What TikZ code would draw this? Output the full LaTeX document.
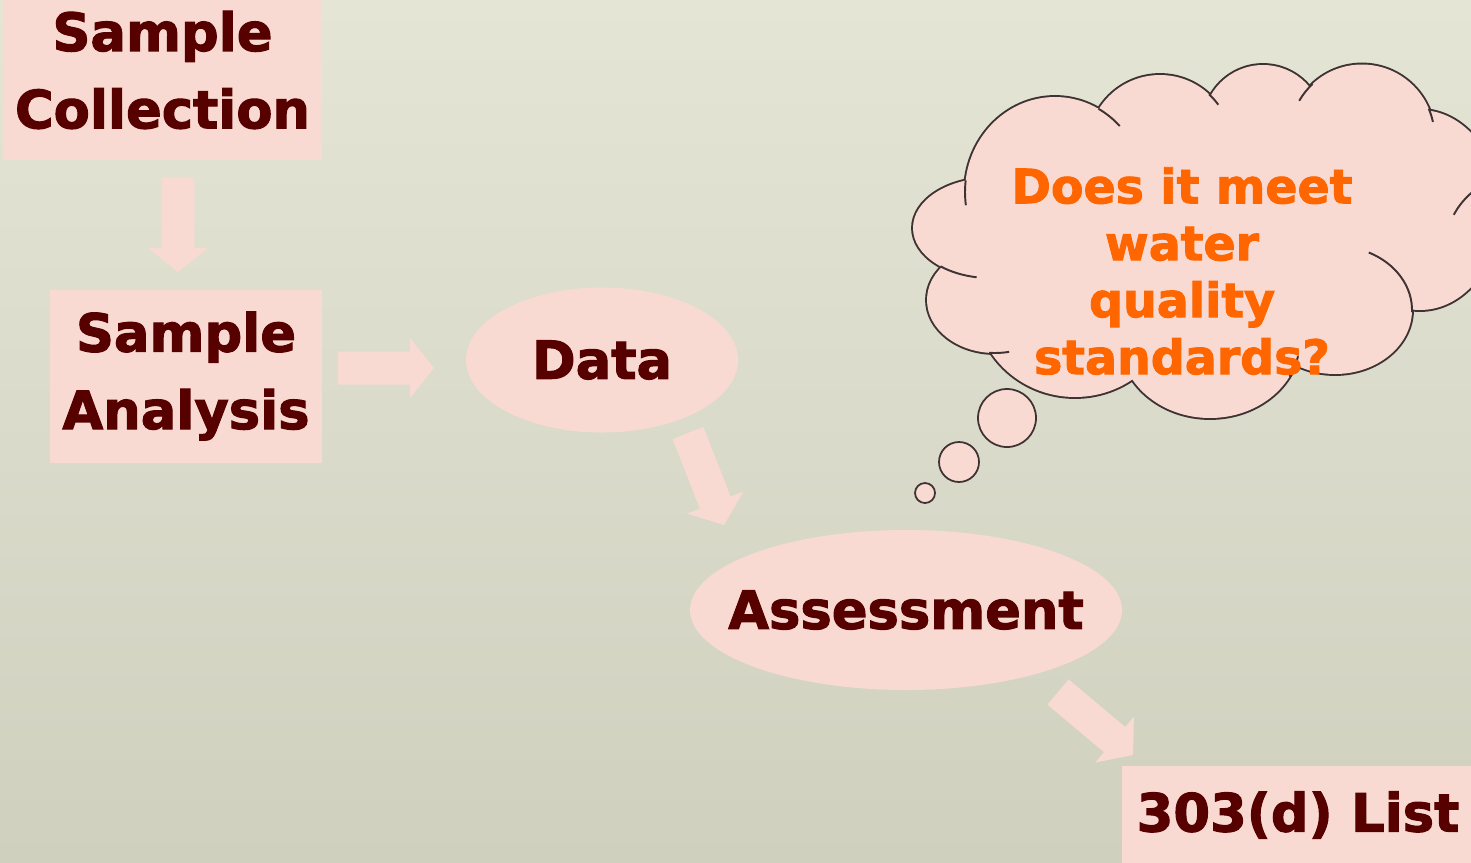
\documentclass[tikz,border=0pt]{standalone}
\usepackage{fontspec}
\setmainfont{DejaVu Sans}[BoldFeatures={FakeBold=2}]
\usetikzlibrary{positioning,shapes.geometric,calc}
\definecolor{boxpink}{RGB}{249,218,210}
\definecolor{darkred}{RGB}{86,0,0}
\definecolor{qorange}{RGB}{255,102,0}
\definecolor{cloudline}{RGB}{62,50,50}
\definecolor{bgtop}{RGB}{228,229,213}
\definecolor{bgmid}{RGB}{215,216,199}
\definecolor{bgbot}{RGB}{208,208,191}
% bumps of the thought cloud: x/y/xradius/yradius
\newcommand{\cloudbumps}{1055/192/90/95, 1160/147/72/72, 1263/125/60/60,
  1362/137/72.5/72.5, 1420/210/80/100, 1335/310/77/64, 1210/340/90/78,
  1075/300/100/97, 995/300/68/53, 990/228/77/50}
% short inner strokes of the cloud: x/y/xradius/yradius/from/to
\newcommand{\cloudcreases}{1335/310/77/64/-64/2, 1055/192/90/95/172/187,
  990/228/77/50/100/130, 995/300/68/53/78/95, 1210/340/90/78/12/28,
  1055/192/90/95/-61/-44, 1160/147/72/72/-47/-36, 1362/137/72.5/72.5/210/227,
  1362/137/72.5/72.5/-23/-12, 1520/250/75/75/208/245}

\begin{document}
\begin{tikzpicture}[x=0.1mm, y=-0.1mm,
box/.style={rectangle, fill=boxpink, text=darkred, align=center, inner sep=0pt,
font=\fontsize{15}{22}\selectfont\bfseries},
blob/.style={ellipse, fill=boxpink, text=darkred, inner xsep=-0.4cm,
font=\fontsize{15}{22}\selectfont\bfseries},
bubble/.style={circle, fill=boxpink, draw=cloudline, line width=0.5pt, inner sep=0pt},
fatarrow/.style={fill=boxpink, to path={let \p1=($(\tikztotarget)-(\tikztostart)$),
\n1={atan2(\y1,\x1)}, \n2={veclen(\x1,\y1)-6.83} in
($(\tikztostart)+(\n1+90:4.69pt)$) -- ++(\n1:\n2) -- ++(\n1+90:3.85pt)
-- (\tikztotarget) -- ++(\n1-128.65:10.94pt) -- ++(\n1+90:3.85pt)
-- ++(\n1+180:\n2) -- cycle}}]
  \useasboundingbox (0,0) rectangle (1471,862);
  \shade[top color=bgtop, middle color=bgmid, bottom color=bgbot] (0,0) rectangle (1471,862);

  % boxes and ellipses of the flow
  \node[box, minimum width=3.19cm, minimum height=1.8cm] (collect) at (162.5,70) {Sample\\Collection};
  \node[box, minimum width=2.72cm, minimum height=1.73cm] (analysis) at (186,376) {Sample\\Analysis};
  \node[blob, minimum width=2.72cm, minimum height=1.45cm] (data) at (602,360) {Data};
  \node[blob, minimum width=4.32cm, minimum height=1.6cm] (assess) at (906,610) {Assessment};
  \node[box, minimum width=3.52cm, minimum height=0.98cm] (list) at (1298,815) {303(d) List};

  % ends of the block arrows
  \coordinate (cd1) at (178,178);
  \coordinate (cd2) at (178,272);
  \coordinate (cr1) at (338,368);
  \coordinate (cr2) at (434,368);
  \coordinate (ca1) at (688,433);
  \coordinate (ca2) at (724,525);
  \coordinate (cb1) at (1058,692);
  \coordinate (cb2) at (1133,755);

\foreach \from/\to in {cd1/cd2,cr1/cr2,ca1/ca2,cb1/cb2}
    \path[fatarrow] (\from) to (\to);

  % thought cloud: outlines first, then the fill over them
  \foreach \cx/\cy/\rx/\ry in \cloudbumps
    \draw[cloudline, line width=1.1pt] (\cx,\cy) ellipse [x radius=\rx, y radius=\ry];
  \foreach \cx/\cy/\rx/\ry in \cloudbumps
    \fill[boxpink] (\cx,\cy) ellipse [x radius=\rx, y radius=\ry];
  \fill[boxpink] (1190,245) ellipse [x radius=210, y radius=110];
  \foreach \cx/\cy/\rx/\ry/\ta/\tb in \cloudcreases
    \draw[cloudline, line width=0.55pt] (\cx,\cy) ++({\rx*cos(\ta)},{\ry*sin(\ta)})
      arc [start angle=\ta, end angle=\tb, x radius=\rx, y radius=\ry];

  % small thought bubbles
  \node[bubble, minimum size=0.58cm] (b1) at (1007,418) {};
  \node[bubble, minimum size=0.40cm] (b2) at (959,462) {};
  \node[bubble, minimum size=0.20cm] (b3) at (925,493) {};

  \node[text=qorange, align=center, font=\fontsize{13.5}{16.2}\selectfont\bfseries]
    (question) at (1182,271) {Does it meet\\water\\quality\\standards?};
\end{tikzpicture}
\end{document}
